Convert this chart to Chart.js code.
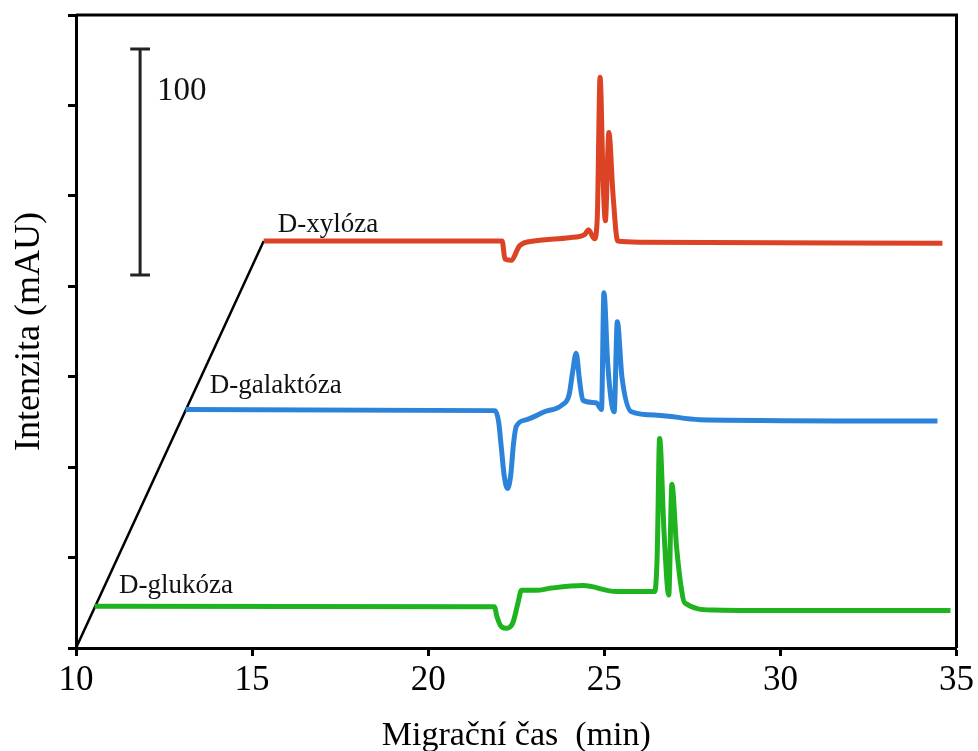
<!DOCTYPE html>
<html>
<head>
<meta charset="utf-8">
<script src="https://cdn.jsdelivr.net/npm/chart.js@4.4.0/dist/chart.umd.min.js"></script>
<style>
  html, body { margin: 0; padding: 0; background: #fff; }
  #wrap { width: 978px; height: 751px; }
</style>
</head>
<body>
<div id="wrap"><canvas id="chart" width="978" height="751"></canvas></div>
<script>
// migration time (min) / intensity (mAU, stacked offsets)
var xyloseX = [15.33, 22.10, 22.18, 22.35, 22.6, 23.0, 24.0, 24.45, 24.55, 24.72, 24.80, 24.88, 24.97, 25.03, 25.13, 25.25, 25.38, 26.0, 34.6];
var xyloseY = [180, 180, 172, 171.5, 178, 180, 181.5, 183, 185, 181, 190, 252.5, 205, 189, 228, 200, 180, 179.5, 179];

var galaktX = [13.11, 21.9, 22.0, 22.08, 22.16, 22.25, 22.34, 22.42, 22.5, 22.8, 23.3, 23.8, 24.0, 24.1, 24.2, 24.3, 24.39, 24.77, 24.92, 24.99, 25.1, 25.28, 25.37, 25.5, 25.77, 26.5, 27.7, 34.46];
var galaktY = [105.5, 105, 100, 88, 76, 70.6, 76, 90, 98, 101, 104.5, 107.5, 112, 122, 130.4, 118, 109.6, 108.5, 105.5, 157.1, 125, 104.5, 144.3, 120, 104.5, 103, 101, 100.4];

var glukX = [10.53, 21.88, 21.95, 22.05, 22.2, 22.4, 22.55, 22.65, 23.07, 23.5, 24.4, 25.34, 26.43, 26.5, 26.57, 26.7, 26.83, 26.92, 27.05, 27.2, 27.28, 28.1, 29.5, 34.83];
var glukY = [18.5, 18.3, 14, 10, 8.7, 11, 20, 25.6, 25.5, 26.5, 27.6, 25, 25, 40, 92.7, 50, 23.4, 72.4, 45, 25, 20, 16.8, 16.6, 16.6];

// offset guide line and 100 mAU scale bar
var guideX = [10, 15.33];
var guideY = [0, 180];
var barX = 11.82;
var barY = [165, 265];
var capHalf = 0.28;

var names = ["D-xylóza", "D-galaktóza", "D-glukóza"];
var colors = ["#dc4224", "#2b84da", "#1fb41f"];
var labelX = [15.73, 13.80, 11.22];
var labelY = [184, 112.8, 24.3];

function pts(xs, ys) {
  return xs.map(function (x, i) { return { x: x, y: ys[i] }; });
}

var serif = '"Liberation Serif", "Times New Roman", serif';

var textPlugin = {
  id: 'texts',
  afterDatasetsDraw: function (chart) {
    var ctx = chart.ctx, sx = chart.scales.x, sy = chart.scales.y, a = chart.chartArea;
    ctx.save();
    // top and right frame
    ctx.strokeStyle = '#000';
    ctx.lineWidth = 3;
    ctx.beginPath();
    ctx.moveTo(a.left, a.top);
    ctx.lineTo(a.right, a.top);
    ctx.lineTo(a.right, a.bottom);
    ctx.stroke();
    ctx.fillStyle = '#111';
    ctx.textBaseline = 'alphabetic';
    ctx.textAlign = 'left';
    ctx.font = '27px ' + serif;
    names.forEach(function (n, i) {
      ctx.fillText(n, sx.getPixelForValue(labelX[i]), sy.getPixelForValue(labelY[i]));
    });
    ctx.font = '33px ' + serif;
    ctx.fillText('100', sx.getPixelForValue(12.30), sy.getPixelForValue(242.4));
    ctx.restore();
  }
};

var datasets = [
  { data: pts(xyloseX, xyloseY), borderColor: colors[0], borderWidth: 5, cubicInterpolationMode: 'monotone' },
  { data: pts(galaktX, galaktY), borderColor: colors[1], borderWidth: 5, cubicInterpolationMode: 'monotone' },
  { data: pts(glukX, glukY), borderColor: colors[2], borderWidth: 5, cubicInterpolationMode: 'monotone' },
  { data: pts(guideX, guideY), borderColor: '#000', borderWidth: 2.5 },
  { data: pts([barX, barX], barY), borderColor: '#222', borderWidth: 3 },
  { data: pts([barX - capHalf, barX + capHalf], [barY[0], barY[0]]), borderColor: '#222', borderWidth: 3 },
  { data: pts([barX - capHalf, barX + capHalf], [barY[1], barY[1]]), borderColor: '#222', borderWidth: 3 }
];
datasets.forEach(function (d) {
  d.pointRadius = 0;
  d.fill = false;
  d.borderJoinStyle = 'round';
});

var chart = new Chart(document.getElementById('chart'), {
  type: 'line',
  data: { datasets: datasets },
  options: {
    responsive: false,
    animation: false,
    layout: { padding: { top: 15, right: 21, left: 0, bottom: 0 } },
    plugins: { legend: { display: false }, tooltip: { enabled: false } },
    scales: {
      x: {
        type: 'linear',
        min: 10, max: 35,
        afterFit: function (s) { s.height = 103; },
        ticks: { stepSize: 5, color: '#000', padding: 4, font: { family: serif, size: 35 }, maxRotation: 0 },
        grid: { drawOnChartArea: false, tickLength: 8, tickWidth: 3, color: '#000' },
        border: { color: '#000', width: 3 },
        title: { display: true, text: 'Migrační čas  (min)', color: '#000', font: { family: serif, size: 34 }, padding: { top: 0, bottom: -5 } }
      },
      y: {
        min: 0, max: 280,
        afterFit: function (s) { s.width = 76; },
        ticks: { stepSize: 40, callback: function () { return ''; } },
        grid: { drawOnChartArea: false, tickLength: 8, tickWidth: 3, color: '#000' },
        border: { color: '#000', width: 3 },
        title: { display: true, text: 'Intenzita (mAU)', color: '#000', font: { family: serif, size: 36 }, padding: { top: 8, bottom: 0 } }
      }
    }
  },
  plugins: [textPlugin]
});
</script>
</body>
</html>
